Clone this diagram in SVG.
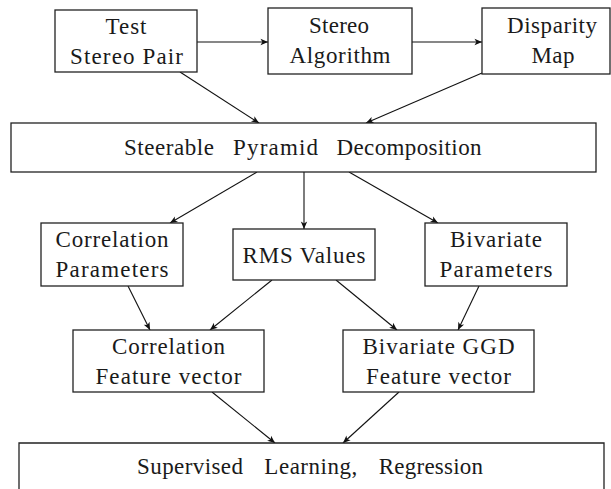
<svg xmlns="http://www.w3.org/2000/svg" width="611" height="489" viewBox="0 0 611 489">
<style>
.box{fill:#fff;stroke:#222;stroke-width:1.3}
text{font-family:"Liberation Serif","Noto Serif","Times New Roman",Tinos,FreeSerif,"DejaVu Serif",serif;font-size:23px;fill:#1a1a1a}
.t{text-anchor:middle}
.c{fill:none;stroke:#111;stroke-width:1.1;marker-end:url(#ah)}
</style>
<defs>
<marker id="ah" markerUnits="userSpaceOnUse" markerWidth="10" markerHeight="10" viewBox="-8 -5 10 10" refX="0" refY="0" orient="auto">
<path d="M0,0 L-7.5,-3.2 L-5.6,0 L-7.5,3.2 Z" fill="#111"/>
</marker>
</defs>
<rect width="611" height="489" fill="#fff"/>
<g id="connectors">
<path class="c" d="M197,42 L268,42"/>
<path class="c" d="M412,42 L482,42"/>
<path class="c" d="M180,72 L259,123"/>
<path class="c" d="M482,73 L366,123"/>
<path class="c" d="M257,172 L170,223"/>
<path class="c" d="M304,172 L304,229"/>
<path class="c" d="M349,172 L438,223"/>
<path class="c" d="M128,286 L150,330"/>
<path class="c" d="M272,280 L210,330"/>
<path class="c" d="M336,280 L397,330"/>
<path class="c" d="M479,286 L458,330"/>
<path class="c" d="M212,392 L275,443"/>
<path class="c" d="M399,392 L343,443"/>
</g>
<g id="test-stereo-pair">
<rect class="box" x="55" y="10" width="142" height="62"/>
<text class="t" x="126" y="34" textLength="41">Test</text>
<text class="t" x="126.5" y="64" textLength="113">Stereo Pair</text>
</g>
<g id="stereo-algorithm">
<rect class="box" x="268" y="8" width="144" height="66"/>
<text class="t" x="339" y="32.5" textLength="60">Stereo</text>
<text class="t" x="340" y="63" textLength="101">Algorithm</text>
</g>
<g id="disparity-map">
<rect class="box" x="482" y="8" width="128" height="66"/>
<text class="t" x="552" y="32.5" textLength="90">Disparity</text>
<text class="t" x="553" y="63" textLength="43">Map</text>
</g>
<g id="steerable-pyramid">
<rect class="box" x="11" y="123" width="585" height="49"/>
<text y="155"><tspan x="124" textLength="90">Steerable</tspan><tspan x="233" textLength="85">Pyramid</tspan><tspan x="336.5" textLength="145">Decomposition</tspan></text>
</g>
<g id="correlation-parameters">
<rect class="box" x="41" y="223" width="142" height="63"/>
<text class="t" x="112" y="247" textLength="113">Correlation</text>
<text class="t" x="112" y="277" textLength="113">Parameters</text>
</g>
<g id="rms-values">
<rect class="box" x="233" y="229" width="142" height="51"/>
<text class="t" x="304" y="262.5" textLength="123">RMS Values</text>
</g>
<g id="bivariate-parameters">
<rect class="box" x="425" y="223" width="142" height="63"/>
<text class="t" x="496" y="247" textLength="92">Bivariate</text>
<text class="t" x="496" y="277" textLength="113">Parameters</text>
</g>
<g id="correlation-feature-vector">
<rect class="box" x="73" y="330" width="191" height="62"/>
<text class="t" x="168.5" y="353.5" textLength="113">Correlation</text>
<text class="t" x="168.5" y="383.5" textLength="146">Feature vector</text>
</g>
<g id="bivariate-ggd-feature-vector">
<rect class="box" x="343" y="330" width="191" height="62"/>
<text class="t" x="438.5" y="353.5" textLength="152">Bivariate GGD</text>
<text class="t" x="438.5" y="383.5" textLength="145">Feature vector</text>
</g>
<g id="supervised-learning">
<path class="box" d="M19,489 V443 H604 V489"/>
<text y="474"><tspan x="137" textLength="106">Supervised</tspan><tspan x="264.3" textLength="93">Learning,</tspan><tspan x="378.7" textLength="104.4">Regression</tspan></text>
</g>
</svg>
